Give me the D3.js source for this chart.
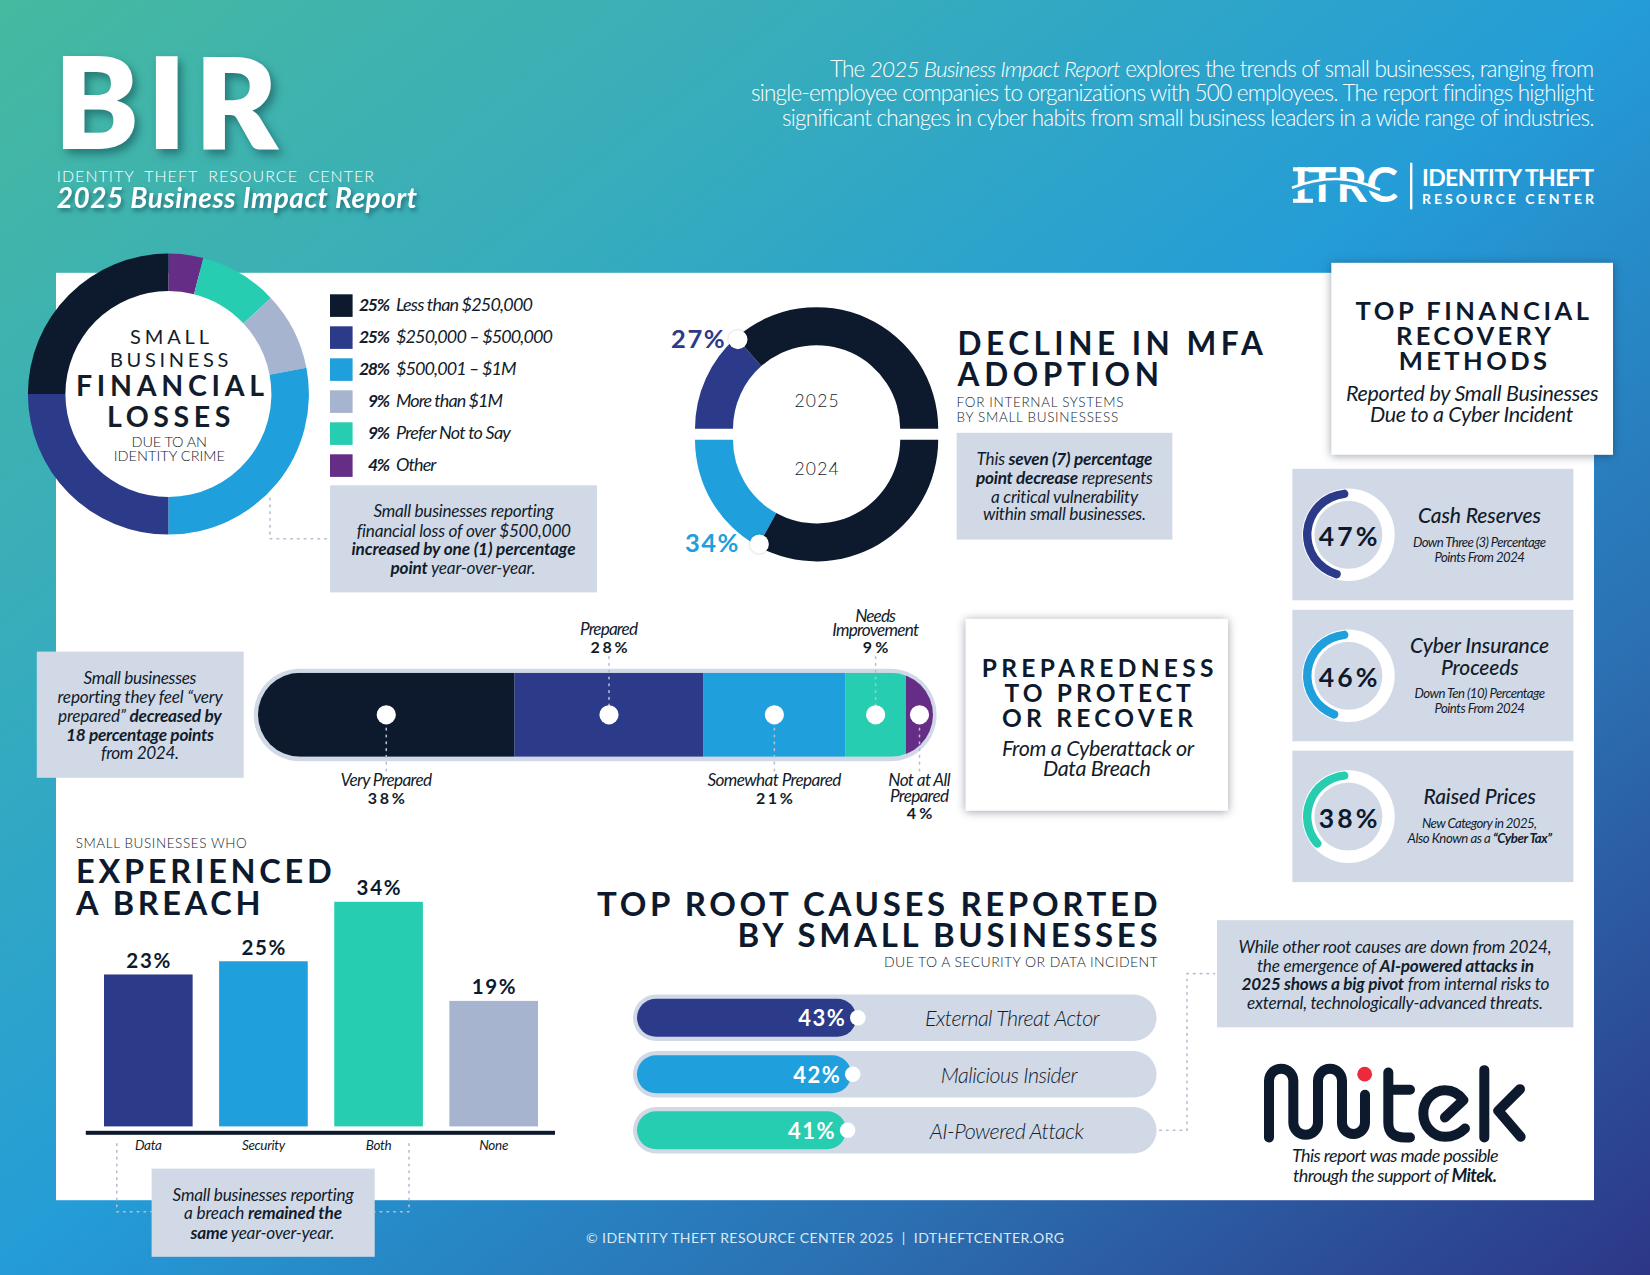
<!DOCTYPE html>
<html><head><meta charset="utf-8">
<script src="https://cdn.jsdelivr.net/npm/d3@7"></script>
<style>
html,body{margin:0;padding:0;background:#fff}
svg{display:block}
text{font-family:Lato,"Open Sans",sans-serif;font-kerning:normal;white-space:pre}
</style></head><body>
<svg id="c" width="1650" height="1275" viewBox="0 -0.8 1650 1275"></svg>
<script>
// ---------- data ----------
const lossLabels = ["Less than $250,000","$250,000 – $500,000","$500,001 – $1M","More than $1M","Prefer Not to Say","Other"];
const lossValues = [25,25,28,9,9,4];
const mfaYears = ["2025","2024"];
const mfaValues = [27,34];
const prepLabels = [["Very Prepared"],["Prepared"],["Somewhat Prepared"],["Needs","Improvement"],["Not at All","Prepared"]];
const prepValues = [38,28,21,9,4];
const breachCats = ["Data","Security","Both","None"];
const breachValues = [23,25,34,19];
const causeLabels = ["External Threat Actor","Malicious Insider","AI-Powered Attack"];
const causeValues = [43,42,41];
const recoveryValues = [47,46,38];
const recoveryTitles = [["Cash Reserves"],["Cyber Insurance","Proceeds"],["Raised Prices"]];
const recoveryNotes = [["Down Three (3) Percentage","Points From 2024"],["Down Ten (10) Percentage","Points From 2024"],["New Category in 2025,","Also Known as a **“Cyber Tax”**"]];

// ---------- style ----------
const DARK="#0d1a2d",NAVY="#2c3a8a",BLUE="#1f9fdc",GREY="#a6b4cf",TEAL="#26cdb0",PURPLE="#662d86",BOX="#d1d9e7",INK="#121c2b",DOT="#b4bfd2";
const lossColors=[DARK,NAVY,BLUE,GREY,TEAL,PURPLE];
const prepColors=[DARK,NAVY,BLUE,TEAL,PURPLE];
const breachColors=[NAVY,BLUE,TEAL,GREY];
const causeColors=[NAVY,BLUE,TEAL];

const svg=d3.select("#c");
const defs=svg.append("defs");
const grad=defs.append("linearGradient").attr("id","bg").attr("gradientUnits","userSpaceOnUse")
 .attr("x1",208).attr("y1",-161).attr("x2",1442).attr("y2",1436);
[[0,"#46b9a0"],[.25,"#38adbb"],[.5,"#249cd7"],[.75,"#2b70b2"],[1,"#2d3687"]].forEach(s=>grad.append("stop").attr("offset",s[0]).attr("stop-color",s[1]));
svg.append("rect").attr("y",-2).attr("width",1650).attr("height",1280).attr("fill","url(#bg)");
svg.append("rect").attr("x",56).attr("y",272).attr("width",1538).attr("height",927.4).attr("fill","#fff");

// text helper: tracks the line so that it runs from x0 to x1
function line(str,x0,x1,y,size,o={}){
  const t=svg.append("text").attr("x",x0).attr("y",y).attr("font-size",size)
    .attr("font-weight",o.w||400).attr("font-style",o.i?"italic":"normal").attr("fill",o.fill||INK);
  if(o.filter)t.style("filter",o.filter);
  if(o.ws)t.style("word-spacing",o.ws+"px");
  let plain="";
  str.split(/(\*\*.*?\*\*|__.*?__)/).filter(s=>s).forEach(p=>{
    const ts=t.append("tspan");
    let s=p;
    if(p.startsWith("**")){s=p.slice(2,-2);ts.attr("font-weight",o.bw||700);}
    else if(p.startsWith("__")){s=p.slice(2,-2);ts.attr("font-style","italic");}
    ts.text(s);plain+=s;
  });
  if(x1!=null){
    const natural=t.node().getComputedTextLength();
    t.style("letter-spacing",((x1-x0-natural)/(plain.length-1)).toFixed(3)+"px");
  }
  return t;
}
const rect=(x0,y0,x1,y1,fill,f)=>{const r=svg.append("rect").attr("x",x0).attr("y",y0).attr("width",x1-x0).attr("height",y1-y0).attr("fill",fill);if(f)r.style("filter",f);return r;};
const dotted=(pts)=>svg.append("path").attr("d",d3.line()(pts)).attr("fill","none").attr("stroke",DOT).attr("stroke-width",1.6).attr("stroke-dasharray","1.6 5.2").attr("stroke-linecap","round");
const CARD="drop-shadow(0 1px 5px rgba(20,30,50,.42))";
const TS="drop-shadow(2px 3px 2px rgba(10,50,70,.5))";
const IT={i:true,w:400,bw:700};
const BODY=17.2;

// ---------- header ----------
line("BIR",54,278,148.5,127,{w:800,fill:"#fff",filter:"drop-shadow(4px 5px 4px rgba(10,60,70,.5))"});
line("IDENTITY THEFT RESOURCE CENTER",56.7,374,181.4,16,{w:300,fill:"#fff",ws:5});
line("2025 Business Impact Report",56.7,417,207.6,28,{i:true,w:700,fill:"#fff",filter:TS});
line("The __2025 Business Impact Report__ explores the trends of small businesses, ranging from",830,1594,75.8,22.5,{w:300,fill:"#fff"});
line("single-employee companies to organizations with 500 employees. The report findings highlight",751,1594,100.6,22.5,{w:300,fill:"#fff"});
line("significant changes in cyber habits from small business leaders in a wide range of industries.",782,1594,125.5,22.5,{w:300,fill:"#fff"});
// ITRC logo
line("ITRC",1294,1398,201.7,48,{w:700,fill:"#fff"});
rect(1293,166.5,1313,170.5,"#fff");rect(1293,198,1313,202,"#fff");
svg.append("path").attr("d","M1292,190 C1325,176 1350,178 1382,192").attr("fill","none").attr("stroke","#2a9fd8").attr("stroke-width",5);
svg.append("path").attr("d","M1292,187 C1325,174 1352,176 1380,189").attr("fill","none").attr("stroke","#fff").attr("stroke-width",2.6);
rect(1410,162,1412.4,208.6,"#fff");
line("IDENTITY THEFT",1422,1594,185.6,23,{w:700,fill:"#fff"});
line("RESOURCE CENTER",1422,1594,202.8,14,{w:700,fill:"#fff"});

// ---------- financial losses donut ----------
const lossOrder=d3.range(lossValues.length).reverse();
const lossPie=d3.pie().sort(null).value(i=>lossValues[i])(lossOrder);
const lossArc=d3.arc().innerRadius(103).outerRadius(140.5);
svg.append("g").attr("transform","translate(168.4,393.3)").selectAll("path").data(lossPie).join("path")
  .attr("d",lossArc).attr("fill",d=>lossColors[d.data]);
line("SMALL",130,209,343.7,20,{w:400});
line("BUSINESS",110,228.4,366.6,20,{w:400});
line("FINANCIAL",76,264,395.3,28.5,{w:700});
line("LOSSES",107,230.5,426,28.5,{w:700});
line("DUE TO AN",131.6,207,446.6,14.5,{w:300});
line("IDENTITY CRIME",113.7,225,460,14.5,{w:300});

// legend
const legY=d3.scalePoint().domain(d3.range(6)).range([304.8,464.8]);
const legW=[137,157,120.5,107,115,40.5];
lossLabels.forEach((l,i)=>{
  const y=legY(i);
  rect(330,y-11.3,352.6,y+11.3,lossColors[i]);
  const pw=lossValues[i]>=10?31:22;
  line(lossValues[i]+"%",390-pw,390,y+5.6,17.5,{i:true,w:700});
  line(l,396,396+legW[i],y+5.6,18,{i:true,w:400});
});
rect(330,484.5,597,591.6,BOX);
line("Small businesses reporting",373.5,553.5,516.6,BODY,IT);
line("financial loss of over $500,000",356.8,570.8,535.8,BODY,IT);
line("**increased by one (1) percentage**",351.5,575.5,554,BODY,IT);
line("**point** year-over-year.",390.5,535.5,572.9,BODY,IT);
dotted([[270,497.5],[270,538],[328,538]]);

// ---------- MFA donut ----------
const MFA_R=[83.6,121.6],DOT_R=119;
const half=(cy,val,start,end,col,year,by)=>{
  const p=d3.pie().sort(null).startAngle(start).endAngle(end)([val,100-val]);
  const g=svg.append("g").attr("transform",`translate(816.6,${cy})`);
  g.selectAll("path").data(p).join("path").attr("d",d3.arc().innerRadius(MFA_R[0]).outerRadius(MFA_R[1])).attr("fill",(d,i)=>i?DARK:col);
  const [dx,dy]=d3.pointRadial(p[0].endAngle,DOT_R);
  g.append("circle").attr("cx",dx).attr("cy",dy).attr("r",9.6).attr("fill","#fff").style("filter","drop-shadow(0 0 1px rgba(0,0,0,.25))");
  line(year,794.6,838.6,by,17.5,{w:300});
};
half(428,mfaValues[0],-Math.PI/2,Math.PI/2,NAVY,mfaYears[0],406.4);
half(439,mfaValues[1],-Math.PI/2,-3*Math.PI/2,BLUE,mfaYears[1],474.5);
line(mfaValues[0]+"%",671,724.7,347.5,25.5,{w:700,fill:NAVY});
line(mfaValues[1]+"%",685,738.4,551.5,25.5,{w:700,fill:BLUE});
line("DECLINE IN MFA",957.6,1263,354,31.5,{w:700,fill:DARK});
line("ADOPTION",957.6,1159,385.4,31.5,{w:700,fill:DARK});
line("FOR INTERNAL SYSTEMS",956.6,1123.4,406,13.5,{w:300});
line("BY SMALL BUSINESSESS",956.6,1118.2,421,13.5,{w:300});
rect(956.6,432,1172.4,538.8,BOX);
line("This **seven (7) percentage**",976.5,1152.5,463.8,BODY,IT);
line("**point decrease** represents",976,1153,483,BODY,IT);
line("a critical vulnerability",991,1138,502,BODY,IT);
line("within small businesses.",983,1146,519.7,BODY,IT);

// ---------- recovery ----------
rect(1331.3,262,1613,454,"#fff",CARD);
line("TOP FINANCIAL",1355.5,1589,319.6,25.5,{w:700,fill:DARK});
line("RECOVERY",1396,1551,344.4,25.5,{w:700,fill:DARK});
line("METHODS",1398.7,1547,369.7,25.5,{w:700,fill:DARK});
line("Reported by Small Businesses",1346,1598.7,400,21.5,{i:true,w:400});
line("Due to a Cyber Incident",1370,1573.4,421,21.5,{i:true,w:400});
const recTop=[468,609,749.8],recColors=[NAVY,BLUE,TEAL];
const ringAngle=d3.scaleLinear().domain([0,100]).range([0,-2*Math.PI]);
const titleBase=[[523],[653,674.5],[804]],noteBase=[[546.5,561.8],[698,712.8],[828,843]];
const titleSpan=[[[1418,1541]],[[1410,1549],[1441,1518.7]],[[1423.4,1536]]];
const noteSpan=[[[1413,1546],[1434.5,1525]],[[1414.5,1545],[1434.5,1525]],[[1422,1537],[1407.6,1552]]];
recoveryValues.forEach((v,i)=>{
  const top=recTop[i],cy=top+66;
  rect(1292.4,top,1573.4,top+131.5,BOX);
  const g=svg.append("g").attr("transform",`translate(1348.4,${cy})`);
  g.append("path").attr("d",d3.arc().innerRadius(34).outerRadius(46.3).startAngle(0).endAngle(2*Math.PI)()).attr("fill","#fff");
  g.append("path").attr("d",d3.arc().innerRadius(37).outerRadius(45.4).cornerRadius(4.2).startAngle(0).endAngle(ringAngle(v))()).attr("fill",recColors[i]);
  line(v+"%",1318.7,1377.6,cy+11,26.5,{w:700,fill:DARK});
  recoveryTitles[i].forEach((t,j)=>line(t,titleSpan[i][j][0],titleSpan[i][j][1],titleBase[i][j]-0.6,21,{i:true,w:500}));
  recoveryNotes[i].forEach((t,j)=>line(t,noteSpan[i][j][0],noteSpan[i][j][1],noteBase[i][j]-0.6,13.2,{i:true,w:400,bw:700}));
});

// ---------- preparedness ----------
rect(36.8,650.8,243.7,777,BOX);
line("Small businesses",83.5,196.5,683,BODY,IT);
line("reporting they feel “very",57.5,222.5,702,BODY,IT);
line("prepared” **decreased by**",58,221.7,721,BODY,IT);
line("**18 percentage points**",66,214,740,BODY,IT);
line("from 2024.",101,179,758.4,BODY,IT);

const prepX=d3.scaleLinear().domain([0,100]).range([258,933]);
const prepCum=d3.cumsum(prepValues);
const prepY0=672,prepY1=756,prepMid=714;
svg.append("rect").attr("x",253.7).attr("y",668).attr("width",936.6-253.7).attr("height",92.5).attr("rx",46.2).attr("fill",BOX);
defs.append("clipPath").attr("id","pill").append("rect").attr("x",prepX(0)).attr("y",prepY0).attr("width",prepX(100)-prepX(0)).attr("height",prepY1-prepY0).attr("rx",42);
svg.append("g").attr("clip-path","url(#pill)").selectAll("rect").data(prepValues).join("rect")
  .attr("x",(d,i)=>prepX(prepCum[i]-d)).attr("y",prepY0).attr("width",d=>prepX(d)-prepX(0)).attr("height",prepY1-prepY0).attr("fill",(d,i)=>prepColors[i]);
const prepLabelY=[[785.4],[633.8],[785.4],[621,635.4],[785.4,801]];
const prepPctY=[803.6,652.5,803.6,652.5,817.8];
const prepHalfW=[[45.8],[29],[67],[20.3,43.4],[31.2,29.5]];
prepValues.forEach((v,i)=>{
  const cx=prepX(prepCum[i]-v/2);
  const up=prepLabelY[i][0]<700;
  dotted([[cx,up?656:prepMid],[cx,up?prepMid:(i==4?772:770)]]);
  svg.append("circle").attr("cx",cx).attr("cy",prepMid).attr("r",9.6).attr("fill","#fff");
  prepLabels[i].forEach((t,j)=>line(t,cx-prepHalfW[i][j],cx+prepHalfW[i][j],prepLabelY[i][j],BODY,{i:true,w:400}));
  const pw=v>=10?18.5:12.8;
  line(v+"%",cx-pw,cx+pw,prepPctY[i],16,{w:700});
});
rect(965.5,618,1228,810,"#fff",CARD);
line("PREPAREDNESS",981.8,1213.4,676,24.5,{w:700,fill:DARK});
line("TO PROTECT",1004.5,1190.8,701,24.5,{w:700,fill:DARK});
line("OR RECOVER",1002,1193,726,24.5,{w:700,fill:DARK});
line("From a Cyberattack or",1002,1193,755.4,21.5,{i:true,w:400});
line("Data Breach",1043,1151,775.6,21.5,{i:true,w:400});

// ---------- breach ----------
line("SMALL BUSINESSES WHO",75.7,246.7,847.7,13.5,{w:300});
line("EXPERIENCED",76,331.7,882.3,32.5,{w:700,fill:DARK});
line("A BREACH",76,260.5,914.2,32.5,{w:700,fill:DARK});
const bx=d3.scaleBand().domain(breachCats).range([104,538]).paddingInner(.23).paddingOuter(0);
const by=d3.scaleLinear().domain([0,34]).range([1125.6,901]);
svg.append("g").selectAll("rect").data(breachValues).join("rect")
  .attr("x",(d,i)=>bx(breachCats[i])).attr("y",d=>by(d)).attr("width",bx.bandwidth()).attr("height",d=>by(0)-by(d)).attr("fill",(d,i)=>breachColors[i]);
breachValues.forEach((v,i)=>{const c=bx(breachCats[i])+bx.bandwidth()/2;
  line(v+"%",c-22,c+22,by(v)-6.5,20.5,{w:700,fill:DARK});});
rect(85.8,1130,555,1134,DARK);
const ax=svg.append("g").attr("transform","translate(0,1132)").call(d3.axisBottom(bx).tickSize(0).tickPadding(7.5));
ax.select(".domain").remove();
ax.selectAll("text").attr("font-size",13.5).attr("font-family","Lato").attr("font-style","italic").attr("font-weight",400).attr("fill",INK).style("letter-spacing","-0.3px");
dotted([[116.8,1143],[116.8,1211],[151,1211]]);
dotted([[409,1143],[409,1211],[375,1211]]);
rect(151.6,1167.8,374.7,1256,BOX);
line("Small businesses reporting",172.6,353.6,1200,BODY,IT);
line("a breach **remained the**",184,342,1218.6,BODY,IT);
line("**same** year-over-year.",190.6,334.6,1238,BODY,IT);

// ---------- root causes ----------
line("TOP ROOT CAUSES REPORTED",597,1157.6,915.5,33,{w:700,fill:DARK});
line("BY SMALL BUSINESSES",737.6,1157.6,946.5,33,{w:700,fill:DARK});
line("DUE TO A SECURITY OR DATA INCIDENT",884,1157.6,966,14,{w:300});
const cx=d3.scaleLinear().domain([0,100]).range([637,1147]);
const causeMid=[1017,1073.5,1129.5];
const causeTextSpan=[[925,1099.7],[940.8,1077.6],[929.7,1083]];
causeValues.forEach((v,i)=>{
  const m=causeMid[i];
  svg.append("rect").attr("x",633).attr("y",m-23.3).attr("width",1156.6-633).attr("height",46.6).attr("rx",23.3).attr("fill",BOX);
  svg.append("rect").attr("x",cx(0)).attr("y",m-19).attr("width",cx(v)-cx(0)).attr("height",38).attr("rx",19).attr("fill",causeColors[i]);
  svg.append("circle").attr("cx",cx(v)+1.5).attr("cy",m).attr("r",7.8).attr("fill","#fff");
  line(v+"%",cx(v)-58,cx(v)-11.5,m+8.5,22,{w:700,fill:"#fff"});
  line(causeLabels[i],causeTextSpan[i][0],causeTextSpan[i][1],m+8.5,21.5,{i:true,w:300});
});
dotted([[1159.7,1129.5],[1187,1129.5],[1187,972.8],[1214.5,972.8]]);
rect(1217,919.4,1573.4,1026.6,BOX);
line("While other root causes are down from 2024,",1238.5,1551.5,952,BODY,IT);
line("the emergence of **AI-powered attacks in**",1257,1533,971,BODY,IT);
line("**2025 shows a big pivot** from internal risks to",1241.5,1549.5,989.6,BODY,IT);
line("external, technologically-advanced threats.",1247,1543,1008,BODY,IT);

// ---------- Mitek logo (artwork) ----------
const mk=svg.append("g").attr("transform","translate(1250,1050) scale(0.3333)").attr("fill","none").attr("stroke",DARK).attr("stroke-width",30).attr("stroke-linecap","round").attr("stroke-linejoin","round");
mk.append("title").text("Mitek");
["M57,260 V90 A36.5,36.5 0 0 1 130,90 V215 A37,37 0 0 0 204,215 V90 A36,36 0 0 1 276,90 V215 A34.5,34.5 0 0 0 345,215 V132",
 "M415,65 V215 Q415,260 465,260 H480 M415,117 H480",
 "M585,200 L640,148 Q620,118 585,118 A65,70 0 0 0 585,258 Q620,258 645,233",
 "M703,58 V260 M810,115 L745,180 L812,258"].forEach(d=>mk.append("path").attr("d",d));
svg.append("circle").attr("cx",1250+344/3).attr("cy",1050+70/3).attr("r",7.4).attr("fill","#ed2a3c");
line("This report was made possible",1292,1498.7,1161,18,{i:true,w:400});
line("through the support of **Mitek.**",1293,1497,1181,18,{i:true,w:400});

// ---------- footer ----------
line("© IDENTITY THEFT RESOURCE CENTER 2025  |  IDTHEFTCENTER.ORG",586,1064,1242.5,14,{w:400,fill:"#dbe8f3"});
</script>
</body></html>
